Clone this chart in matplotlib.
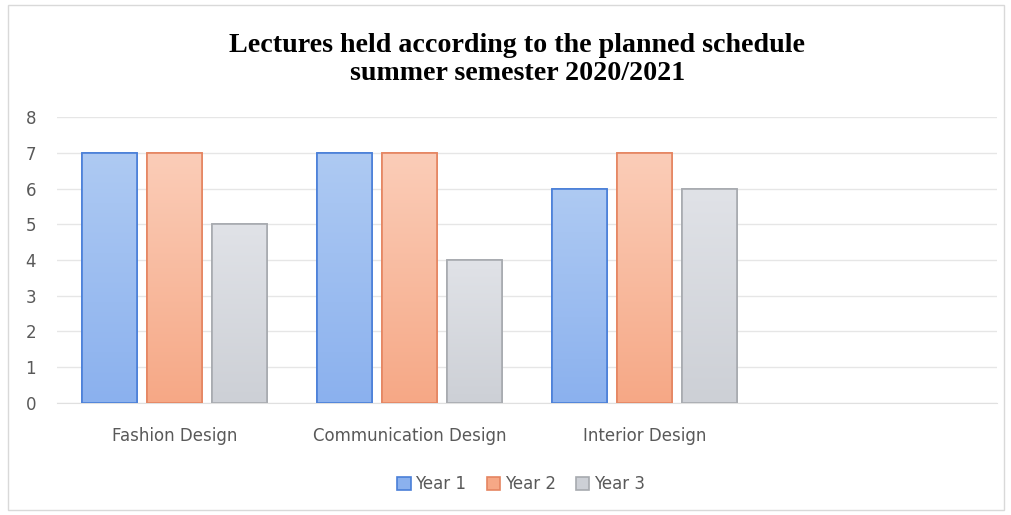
import matplotlib
matplotlib.use("Agg")
import matplotlib.pyplot as plt
import numpy as np
from matplotlib.colors import LinearSegmentedColormap

# Chart data
categories = ["Fashion Design", "Communication Design", "Interior Design", ""]
series = ["Year 1", "Year 2", "Year 3"]
year1 = [7, 7, 6]
year2 = [7, 7, 7]
year3 = [5, 4, 6]
values = [year1, year2, year3]

# gradient (top colour, bottom colour) and edge colour per series
tops = ["#aecaf3", "#fbcdb8", "#e0e2e7"]
bottoms = ["#8bb1ee", "#f6a886", "#cdd0d6"]
edges = ["#4a7fd8", "#e58561", "#a7aaaf"]

fig = plt.figure(figsize=(10.12, 5.15), dpi=100)
ax = fig.add_axes([0.0563, 0.2175, 0.9287, 0.5553])

width = 0.234
pitch = 0.277
x = np.arange(len(categories))

for i, (name, vals) in enumerate(zip(series, values)):
    pos = x[:len(vals)] + (i - 1) * pitch
    bars = ax.bar(pos, vals, width, color=bottoms[i], edgecolor=edges[i],
                  linewidth=1.2, label=name, zorder=2)
    cmap = LinearSegmentedColormap.from_list("g%d" % i, [bottoms[i], tops[i]])
    for b in bars:
        bx, by = b.get_x(), b.get_y()
        bw, bh = b.get_width(), b.get_height()
        grad = np.linspace(0, 1, 100).reshape(-1, 1)
        im = ax.imshow(grad, cmap=cmap, origin="lower", aspect="auto",
                       extent=[bx, bx + bw, by, by + bh], zorder=3)
        im.set_clip_path(b)
        # redraw the outline on top of the gradient
        ax.bar(b.get_x() + bw / 2, bh, bw, fill=False, edgecolor=edges[i],
               linewidth=1.2, zorder=4)

ax.set_xlim(-0.5, 3.5)
ax.set_ylim(0, 8)
ax.set_yticks(range(0, 9))
ax.set_xticks(x)
ax.set_xticklabels(categories)
ax.grid(axis="y", color="#e6e6e6", linewidth=1, zorder=0)
for s in ax.spines.values():
    s.set_visible(False)
ax.spines["bottom"].set_visible(True)
ax.spines["bottom"].set_color("#e0e0e0")
ax.tick_params(axis="both", length=0, labelsize=12, colors="#595959")
ax.tick_params(axis="y", pad=15)
ax.tick_params(axis="x", pad=17)

fig.suptitle("Lectures held according to the planned schedule\nsummer semester 2020/2021",
             x=0.511, y=0.935, fontsize=20.2, fontweight="bold", family="Liberation Serif",
             linespacing=1.15)

leg = fig.legend(loc="center", bbox_to_anchor=(0.515, 0.06), ncol=3, frameon=False,
                 fontsize=12, handlelength=0.8, handleheight=0.8, handletextpad=0.3,
                 columnspacing=1.2)
for t in leg.get_texts():
    t.set_color("#595959")

# light frame around the chart area
fig.patches.append(plt.Rectangle((0.008, 0.01), 0.984, 0.98, transform=fig.transFigure,
                                 fill=False, edgecolor="#d9d9d9", linewidth=1))

fig.savefig("out.png", dpi=100)
